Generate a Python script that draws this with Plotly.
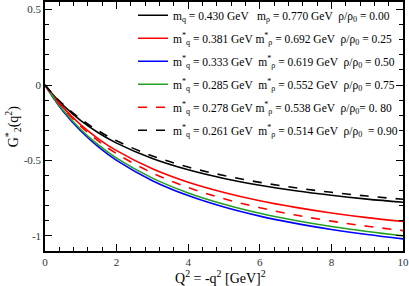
import plotly.graph_objects as go

Q2 = [0, 0.25, 0.5, 1, 1.5, 2, 3, 4, 5, 6, 7, 8, 9, 10]

g_000 = [0, -0.071, -0.133, -0.236, -0.318, -0.385, -0.487, -0.562, -0.619, -0.664, -0.701, -0.731, -0.756, -0.777]
g_025 = [0, -0.0785, -0.148, -0.264, -0.358, -0.435, -0.555, -0.644, -0.712, -0.767, -0.811, -0.848, -0.879, -0.905]
g_050 = [0, -0.0915, -0.172, -0.305, -0.412, -0.50, -0.634, -0.733, -0.809, -0.869, -0.917, -0.957, -0.991, -1.02]
g_075 = [0, -0.088, -0.1655, -0.295, -0.399, -0.485, -0.617, -0.715, -0.790, -0.850, -0.898, -0.938, -0.971, -1.0]
g_080 = [0, -0.081, -0.153, -0.274, -0.373, -0.455, -0.583, -0.679, -0.754, -0.813, -0.862, -0.902, -0.936, -0.965]
g_090 = [0, -0.0676, -0.127, -0.226, -0.305, -0.37, -0.470, -0.544, -0.600, -0.645, -0.681, -0.711, -0.736, -0.757]

labels = [
    "m<sub>q</sub> = 0.430 GeV   m<sub>ρ</sub> = 0.770 GeV  ρ/ρ<sub>0</sub> = 0.00",
    "m<sup>*</sup><sub>q</sub> = 0.381 GeV m<sup>*</sup><sub>ρ</sub> = 0.692 GeV  ρ/ρ<sub>0</sub> = 0.25",
    "m<sup>*</sup><sub>q</sub> = 0.333 GeV  m<sup>*</sup><sub>ρ</sub> = 0.619 GeV  ρ/ρ<sub>0</sub> = 0.50",
    "m<sup>*</sup><sub>q</sub> = 0.285 GeV  m<sup>*</sup><sub>ρ</sub> = 0.552 GeV  ρ/ρ<sub>0</sub> = 0.75",
    "m<sup>*</sup><sub>q</sub> = 0.278 GeV m<sup>*</sup><sub>ρ</sub> = 0.538 GeV  ρ/ρ<sub>0</sub>= 0. 80",
    "m<sup>*</sup><sub>q</sub> = 0.261 GeV  m<sup>*</sup><sub>ρ</sub> = 0.514 GeV  ρ/ρ<sub>0</sub>  = 0.90",
]
series = [g_000, g_025, g_050, g_075, g_080, g_090]
colors = ["#000000", "#ff0000", "#0000ff", "#22a022", "#ff0000", "#000000"]
dashes = ["solid", "solid", "solid", "solid", "dash", "dash"]

fig = go.Figure()
for i, (y, lab, c, d) in enumerate(zip(series, labels, colors, dashes)):
    fig.add_trace(go.Scatter(x=Q2, y=y, mode="lines", name=lab, legendgroup=f"g{i}",
                             line=dict(color=c, dash=d, width=1.6, shape="spline")))

font = "Liberation Serif, Times New Roman, serif"
fig.update_layout(
    width=409, height=286,
    margin=dict(l=45, r=6, t=2, b=35, autoexpand=False),
    paper_bgcolor="white", plot_bgcolor="white",
    font=dict(family=font, size=12, color="black"),
    showlegend=True,
    legend=dict(x=1, y=1.005, xanchor="right", yanchor="top", maxheight=1,
                bgcolor="rgba(0,0,0,0)", font=dict(family=font, size=11.5),
                traceorder="grouped", tracegroupgap=4, itemwidth=30),
    annotations=[
        dict(text="Q<sup>2</sup> = -q<sup>2</sup> [GeV]<sup>2</sup>", xref="paper", yref="paper",
             x=0.49, y=-0.103, xanchor="center", yanchor="middle", showarrow=False,
             font=dict(family=font, size=14)),
        dict(text="G<sup>*</sup><sub>2</sub>(q<sup>2</sup>)", xref="paper", yref="paper",
             x=-0.09, y=0.5, xanchor="center", yanchor="middle", showarrow=False, textangle=-90,
             font=dict(family=font, size=14)),
    ],
)
fig.update_xaxes(
    range=[0, 10], tickvals=[0, 2, 4, 6, 8, 10], ticktext=["0", "2", "4", "6", "8", "10"],
    ticks="inside", ticklen=7, tickwidth=1, tickcolor="black",
    minor=dict(dtick=0.4, ticks="inside", ticklen=4, tickcolor="black"),
    showline=True, linecolor="black", linewidth=1.5, mirror="ticks",
    showgrid=False, zeroline=False, automargin=False,
    tickfont=dict(family=font, size=11, color="#333333"),
)
fig.update_yaxes(
    range=[-1.1, 0.55], tickvals=[-1, -0.5, 0, 0.5], ticktext=["-1", "-0.5", "0", "0.5"],
    ticks="inside", ticklen=7, tickwidth=1, tickcolor="black",
    minor=dict(dtick=0.1, ticks="inside", ticklen=4, tickcolor="black"),
    showline=True, linecolor="black", linewidth=1.5, mirror="ticks",
    showgrid=False, zeroline=False, automargin=False,
    tickfont=dict(family=font, size=11, color="#333333"),
)
fig.write_html("out.html", config={"displayModeBar": False},
               post_script="document.body.style.margin='0';document.body.style.overflow='hidden';")
